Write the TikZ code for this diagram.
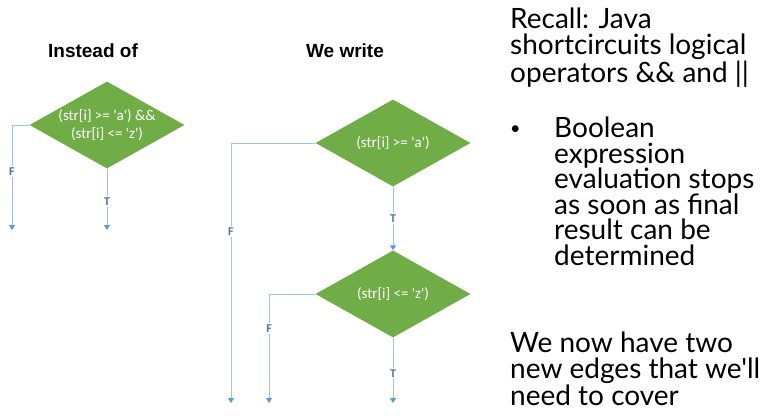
\documentclass[tikz,border=0pt]{standalone}
\usepackage{fontspec}
\setmainfont{Liberation Sans}
\newfontfamily\calfont{Carlito}
\newfontfamily\slidefont{Lato}
\usetikzlibrary{shapes.geometric,arrows.meta}

\definecolor{boxgreen}{HTML}{70AD47}
\definecolor{edgeblue}{HTML}{9DC3E6}
\definecolor{tipblue}{HTML}{5B9BD5}
\definecolor{labelblue}{HTML}{4F739C}

\tikzset{
  test/.style = {
    diamond,
    draw          = none,       % no border
    fill          = boxgreen,
    shape aspect  = 1.8,
    minimum width = 155pt,      % outer width
    minimum height= 87pt,       % outer height
    inner sep     = 0pt,
    font          = \calfont\fontsize{15}{17.5}\selectfont,
    text          = white,
    align         = center,
  },
  edge/.style = {
    draw          = edgeblue,
    line width    = 1pt,
    -{Triangle[width=6pt,length=5pt,color=tipblue]},
  },
  branch/.style = {
    fill          = white,
    inner sep     = 1.5pt,
    font          = \calfont\bfseries\fontsize{12}{13}\selectfont,
    text          = labelblue,
  },
  heading/.style = {
    font          = \bfseries\fontsize{19}{22}\selectfont,
    text          = black,
  },
  slidetext/.style = {
    anchor        = base west,      % baseline of the last line
    align         = left,
    inner sep     = 0pt,
    font          = \slidefont\fontsize{28}{25.5}\selectfont,
  },
}

\begin{document}
\begin{tikzpicture}[x=1pt,y=-1pt]
\useasboundingbox (0,0) rectangle (781,415);

% left: one combined test
\node[heading] (instead) at (93,51) {Instead of};
\node[test] (both) at (107,125) {(str[i] >= 'a') \&\&\\(str[i] <= 'z')};
\coordinate (bothF) at (12,230);
\coordinate (bothT) at (107,230);
\draw[edge] (both.west) -| node[branch, pos=0.72] {F} (bothF);
\draw[edge] (both.south) -- node[branch, pos=0.53] {T} (bothT);

% middle: two tests
\node[heading] (wewrite) at (345,51) {We write};
\node[test] (lower) at (393,143) {(str[i] >= 'a')};
\node[test] (upper) at (393,294) {(str[i] <= 'z')};
\coordinate (lowerF) at (231,403);
\coordinate (upperF) at (269,403);
\coordinate (upperT) at (393,403);
\draw[edge] (lower.west) -| node[branch, pos=0.67] {F} (lowerF);
\draw[edge] (lower.south) -- node[branch, pos=0.5] {T} (upper.north);
\draw[edge] (upper.west) -| node[branch, pos=0.66] {F} (upperF);
\draw[edge] (upper.south) -- node[branch, pos=0.55] {T} (upperT);

% right: notes
\node[slidetext] (recall) at (510,82)
  {Recall: Java\\shortcircuits logical\\operators \&\& and ||};
\node[slidetext, font=\slidefont\fontsize{18}{20}\selectfont] (dot) at (510,134) {•};
\node[slidetext] (stops) at (554,265)
  {Boolean\\expression\\evaluation stops\\as soon as final\\result can be\\determined};
\node[slidetext] (edges) at (510,405)
  {We now have two\\new edges that we'll\\need to cover};
\end{tikzpicture}
\end{document}
